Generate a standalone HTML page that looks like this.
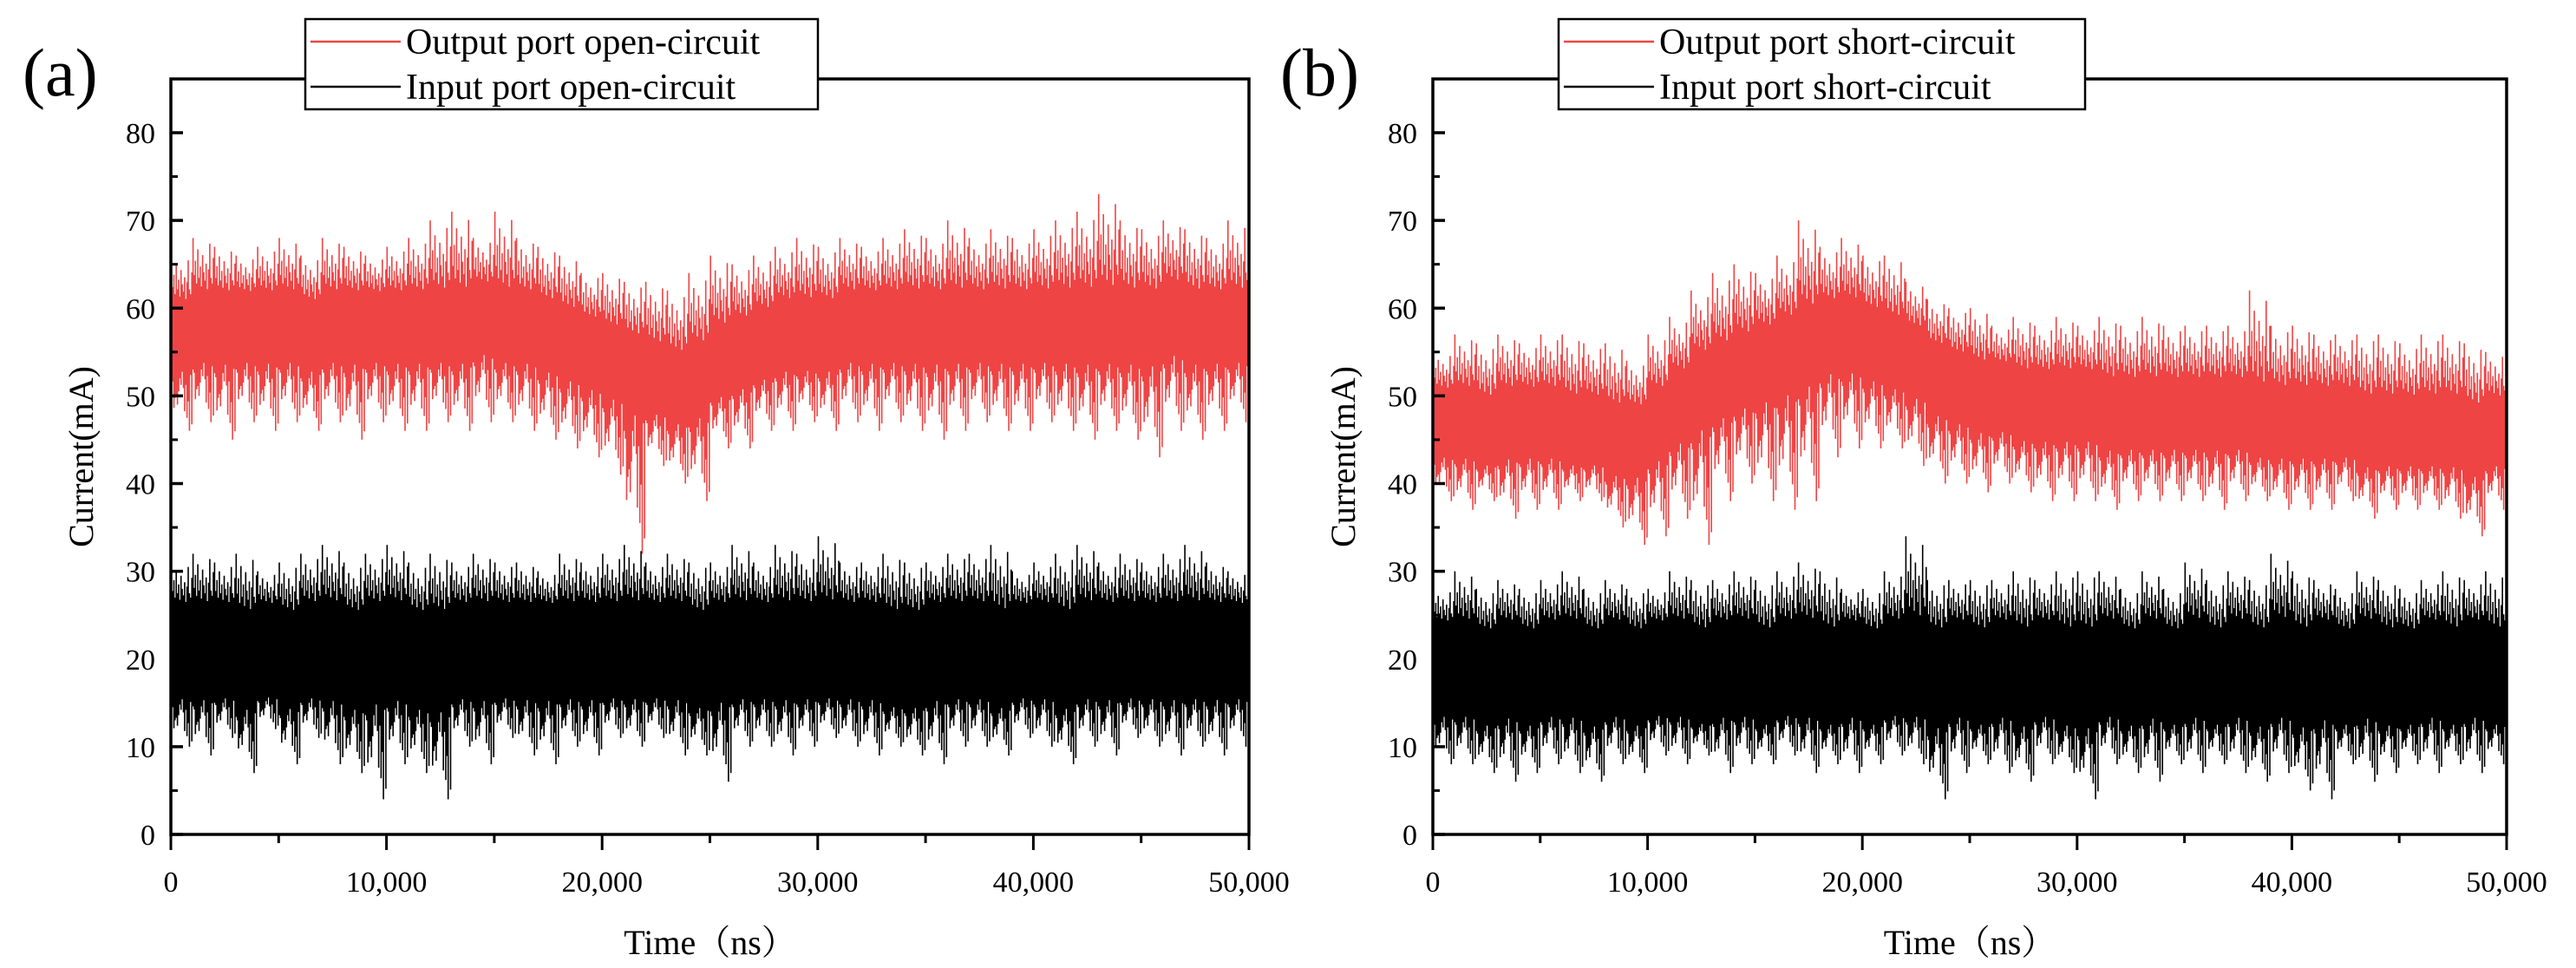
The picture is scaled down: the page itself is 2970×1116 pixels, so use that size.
<!DOCTYPE html>
<html><head><meta charset="utf-8"><style>
html,body{margin:0;padding:0;background:#fff;}
svg{display:block;font-family:"Liberation Serif","Noto Serif CJK SC",serif;}
</style></head><body>
<svg id="fig" width="2970" height="1116" viewBox="0 0 2970 1116" xmlns="http://www.w3.org/2000/svg"></svg>
<script>
// ---- data (values per 1000 ns segment, 0..50,000 ns) ----
const xTicks = [0,10000,20000,30000,40000,50000];
const xTickLabels = ["0","10,000","20,000","30,000","40,000","50,000"];
const yTicks = [0,10,20,30,40,50,60,70,80];
const coreHalfRed = 3.5;
const coreHalfBlack = 5;
const aRedMean = [57,58,58,58,58,58,57,58,58,58, 58,58,58,58,59,58,58,57,56,55, 54,53,52,51,52,54,55,56,57,57, 57,58,58,58,58,58,58,58,58,58, 58,58,58,58,58,58,59,58,58,58];
const aRedHi = [66,68,67,66,67,68,66,68,67,66, 67,68,70,71,68,71,68,67,66,64, 64,63,63,62,64,66,65,66,67,68, 67,68,67,68,69,68,70,68,69,68, 69,70,71,73,70,69,70,69,68,70];
const aRedLo = [46,47,45,47,46,47,46,47,45,47, 46,46,47,46,47,47,46,45,44,43, 41,32,42,40,38,44,44,46,46,47, 46,47,46,47,46,45,46,47,46,46, 47,46,45,46,45,43,46,45,46,47];
const aBlackMean = [21,21,21,20,21,20,21,21,20,21, 21,20,20,21,21,21,21,21,21,21, 21,21,21,21,20,21,21,21,21,21, 21,21,21,20,20,21,21,21,20,21, 21,20,21,21,21,21,21,21,21,21];
const aBlackHi = [31,32,31,32,30,31,32,33,31,32, 33,31,32,31,32,31,31,30,32,31, 32,33,31,32,31,31,33,31,33,32, 34,31,31,32,31,31,32,32,33,30, 31,32,33,31,32,31,32,33,31,30];
const aBlackLo = [10,9,11,7,12,8,11,8,7,4, 8,7,4,10,8,11,9,8,10,9, 11,10,11,9,9,6,10,10,9,10, 11,10,9,10,9,8,10,10,9,11, 10,8,10,9,11,10,9,10,9,10];
const bRedMean = [47,47,46,47,47,47,46,46,45,45, 47,49,51,52,53,54,55,56,57,57, 56,55,54,52,51,50,50,49,49,49, 49,48,48,48,48,48,48,48,47,47, 47,47,47,46,46,46,46,46,45,46];
const bRedHi = [55,57,56,57,56,57,57,56,56,54, 57,59,62,64,65,64,66,70,67,68, 66,66,63,61,60,60,58,59,58,59, 58,59,58,59,58,58,58,58,62,58, 58,57,57,57,57,56,57,57,56,55];
const bRedLo = [38,37,38,36,37,37,38,38,35,33, 34,36,33,38,40,38,37,38,43,44, 44,44,42,40,40,39,40,39,38,38, 38,37,38,38,38,38,37,38,38,37, 37,37,38,36,37,37,37,36,34,37];
const bBlackMean = [19,19,18,19,18,19,19,18,19,18, 19,19,18,19,19,18,19,19,18,19, 18,19,19,18,19,18,19,18,19,18, 18,19,18,19,18,19,18,19,18,19, 18,19,18,19,18,18,19,18,19,18];
const bBlackHi = [28,30,28,29,28,29,30,28,29,28, 28,30,29,29,30,29,30,31,30,28, 28,30,34,29,29,29,29,30,29,30, 30,30,28,30,28,31,29,30,29,32, 30,29,28,30,29,28,29,30,29,30];
const bBlackLo = [8,8,7,6,7,8,7,6,8,7, 9,8,9,7,8,8,9,7,8,7, 8,9,8,4,7,8,7,6,8,7, 4,8,7,6,8,7,8,7,6,7, 5,4,8,6,7,8,7,8,7,8];

const NS="http://www.w3.org/2000/svg";
const svg=document.getElementById('fig');
function mk(tag,attrs,parent){const e=document.createElementNS(NS,tag);for(const k in attrs)e.setAttribute(k,attrs[k]);(parent||svg).appendChild(e);return e;}

function panel(p){
  const L=p.left,R=p.right,T=91,B=962;
  const xs=v=>L+(v/50000)*(R-L);
  const ys=v=>B-(v/80)*(B-153);
  const g=mk('g',{});
  
  
  const segW=(R-L)/50;
  const fr=[1,0.35,0.6,0.2,0.8,0.3,0.5,0.15,0.7,0.4,0.25,0.55,0.1,0.45,0.9,0.3,0.2,0.65];
  function series(mean,hi,lo,half,color,nm){
    const sg=mk('g',{},g);
    
    
    // smoothed core band polygon
    let top=[],bot=[];
    for(let i=0;i<mean.length;i++){
      const xc=xs(i*1000+500);
      top.push(`${xc},${ys(mean[i]+half)}`);
      bot.unshift(`${xc},${ys(mean[i]-half)}`);
    }
    top.unshift(`${L},${ys(mean[0]+half)}`);top.push(`${R},${ys(mean[mean.length-1]+half)}`);
    bot.unshift(`${R},${ys(mean[mean.length-1]-half)}`);bot.push(`${L},${ys(mean[0]-half)}`);
    const band=mk('polygon',{points:top.concat(bot).join(' '),fill:color},sg);
    
    
    let s='';
    for(let i=0;i<mean.length;i++){
      const cH=mean[i]+half,cL=mean[i]-half;
      for(let k=0;k<fr.length;k++){
        const x=xs(i*1000)+segW*(k+0.5)/fr.length;
        const up=cH+(hi[i]-cH)*fr[k];
        const dn=cL-(cL-lo[i])*fr[(k*7+3)%fr.length];
        s+=`M${x.toFixed(1)},${ys(cH-2).toFixed(1)}V${ys(up).toFixed(1)}M${x.toFixed(1)},${ys(cL+2).toFixed(1)}V${ys(dn).toFixed(1)}`;
      }
    }
    const sp=mk('path',{d:s,stroke:color,'stroke-width':1.6,fill:'none'},sg);
    
    
  }
  series(p.redMean,p.redHi,p.redLo,coreHalfRed,'#ef4444',p.name+'-red-series');
  series(p.blackMean,p.blackHi,p.blackLo,coreHalfBlack,'#000',p.name+'-black-series');
  const fr2=mk('rect',{x:L,y:T,width:R-L,height:B-T,fill:'none',stroke:'#000','stroke-width':3.5},g);
  
  
  yTicks.forEach(v=>{
    const y=ys(v);
    mk('line',{x1:L,x2:L+14,y1:y,y2:y,stroke:'#000','stroke-width':3.5},g);
    if(v<80) mk('line',{x1:L,x2:L+8,y1:ys(v+5),y2:ys(v+5),stroke:'#000','stroke-width':3},g);
    const t=mk('text',{x:L-18,y:y+12,'font-size':34,'text-anchor':'end',fill:'#000'},g);
    t.textContent=String(v);
    
    
  });
  xTicks.forEach((v,i)=>{
    const x=xs(v);
    mk('line',{x1:x,x2:x,y1:B,y2:B+18,stroke:'#000','stroke-width':3},g);
    if(i<xTicks.length-1) mk('line',{x1:xs(v+5000),x2:xs(v+5000),y1:B,y2:B+10,stroke:'#000','stroke-width':3},g);
    const t=mk('text',{x:x,y:1028,'font-size':34,'text-anchor':'middle',fill:'#000'},g);
    t.textContent=xTickLabels[i];
    
    
  });
  const xt=mk('text',{x:(L+R)/2,y:1100,'font-size':40,'text-anchor':'middle',fill:'#000'},g);
  xt.textContent='Time（ns）';
  
  
  const yt=mk('text',{x:0,y:0,'font-size':40,'text-anchor':'middle',fill:'#000',transform:`translate(${L-90},${(T+B)/2}) rotate(-90)`},g);
  yt.textContent='Current(mA)';
  
  
  const pl=mk('text',{x:p.labelX,y:110,'font-size':78,fill:'#000'},g);
  pl.textContent=p.label;
  
  
  const lg=mk('g',{},g);
  
  
  mk('rect',{x:p.legX,y:22,width:p.legW,height:104,fill:'#fff',stroke:'#000','stroke-width':2.5},lg);
  mk('line',{x1:p.legX+6,x2:p.legX+110,y1:48,y2:48,stroke:'#ef4444','stroke-width':2.5},lg);
  mk('line',{x1:p.legX+6,x2:p.legX+110,y1:100,y2:100,stroke:'#000','stroke-width':2.5},lg);
  const l1=mk('text',{x:p.legX+116,y:62,'font-size':42,fill:'#000'},lg);
  l1.textContent=p.leg1;
  
  
  const l2=mk('text',{x:p.legX+116,y:114,'font-size':42,fill:'#000'},lg);
  l2.textContent=p.leg2;
  
  
}
panel({name:'panel-a',left:197,right:1440,label:'(a)',labelX:26,legX:352,legW:591,
  leg1:'Output port open-circuit',leg2:'Input port open-circuit',
  redMean:aRedMean,redHi:aRedHi,redLo:aRedLo,blackMean:aBlackMean,blackHi:aBlackHi,blackLo:aBlackLo});
panel({name:'panel-b',left:1652,right:2890,label:'(b)',labelX:1476,legX:1797,legW:607,
  leg1:'Output port short-circuit',leg2:'Input port short-circuit',
  redMean:bRedMean,redHi:bRedHi,redLo:bRedLo,blackMean:bBlackMean,blackHi:bBlackHi,blackLo:bBlackLo});
</script>
</body></html>
